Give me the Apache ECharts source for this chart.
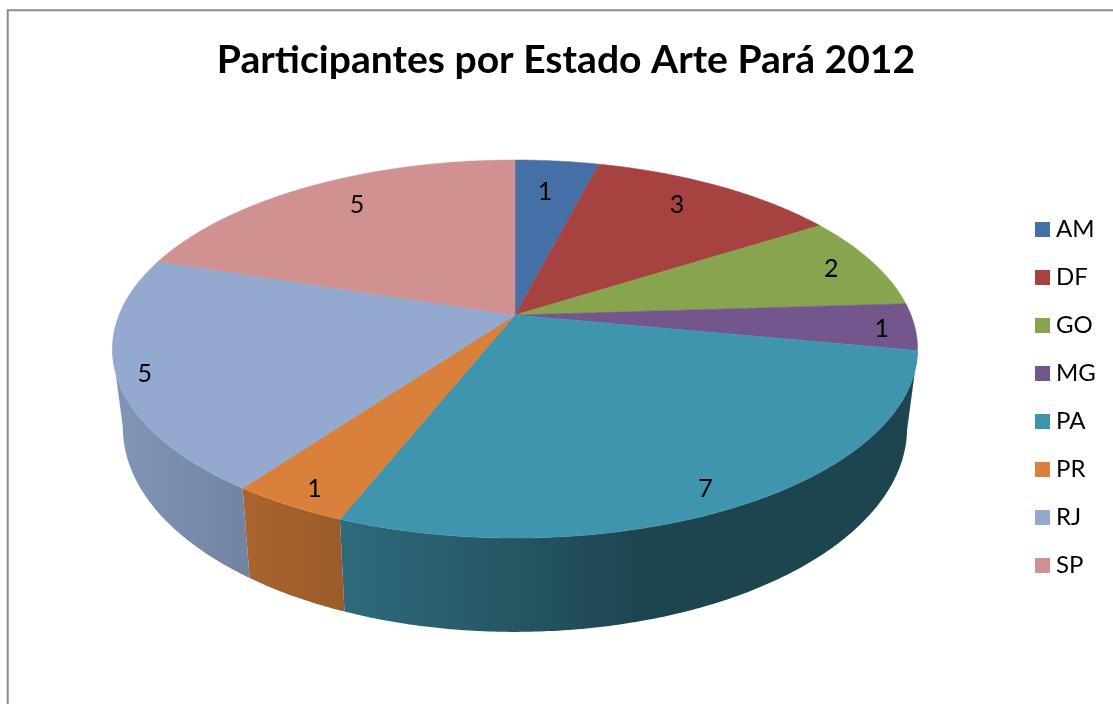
<!DOCTYPE html>
<html>
<head>
<meta charset="utf-8">
<style>html,body{margin:0;padding:0;background:#fff;overflow:hidden}#c{width:1113px;height:704px}</style>
<script src="https://cdn.jsdelivr.net/npm/echarts@6/dist/echarts.min.js"></script>
</head>
<body>
<div id="c"></div>
<script>
var chartTitle = 'Participantes por Estado Arte Pará 2012';
var categories = ['AM','DF','GO','MG','PA','PR','RJ','SP'];
var values = [1,3,2,1,7,1,5,5];
var colors = ['#4470a7','#a64340','#89a44e','#73568c','#3f95ad','#d9803b','#93a9cf','#d09190'];

// Perspective disc: maps pie angle to the page
var cx = 515, cy = 315, A = 182.9, B = 396, K = 0.18;
function top3d(t){
  var d = 1 + K*Math.cos(t);
  return [cx + B*Math.sin(t)/d, cy - A*Math.cos(t)/d];
}
function bottom3d(t){
  var p = top3d(t);
  return [cx + (p[0]-cx)*0.974, cy + (p[1]-cy)*1.08 + 76];
}
var total = values.reduce(function(a,b){return a+b;},0);
function angleAt(i){
  var s = 0; for (var j=0;j<i;j++) s += values[j];
  return s/total*Math.PI*2;
}
function arc(fn,t0,t1){
  var n = Math.max(2,Math.ceil((t1-t0)/0.01)), pts=[];
  for (var i=0;i<=n;i++) pts.push(fn(t0+(t1-t0)*i/n));
  return pts;
}
// the wall is only visible between the two silhouette angles of the disc
var visFrom = Math.PI - Math.acos(K), visTo = Math.PI + Math.acos(K);
// shading of the side wall across the page width
var shadeX = [112,245,344,515,640,918], shadeF = [0.89,0.78,0.71,0.58,0.46,0.46];
// fine placement of the value labels relative to the slice's rim
var labelInsetX = 38, labelInsetY = 30;
var labelNudgeX = [-2,-9,-3,5,-7,-3,-9,13], labelNudgeY = [2,3,3,3,3,3,4,3];
function shaded(hex,f){
  var n = parseInt(hex.slice(1),16);
  return 'rgb('+Math.round((n>>16&255)*f)+','+Math.round((n>>8&255)*f)+','+Math.round((n&255)*f)+')';
}
function wallFill(hex){
  var x0=shadeX[0], x1=shadeX[shadeX.length-1];
  return new echarts.graphic.LinearGradient(x0,0,x1,0,shadeX.map(function(x,i){
    return {offset:(x-x0)/(x1-x0),color:shaded(hex,shadeF[i])};
  }),true);
}
function renderWall(params,api){
  var i = api.value(0), t0 = Math.max(angleAt(i),visFrom), t1 = Math.min(angleAt(i+1),visTo);
  if (t1 <= t0) return {type:'group',children:[]};
  var pts = arc(top3d,t0,t1).concat(arc(bottom3d,t0,t1).reverse());
  return {type:'polygon',shape:{points:pts},style:{fill:wallFill(colors[i]),lineWidth:0},silent:true};
}
function renderTop(i){
  return function(params,api){
    var t0 = angleAt(i), t1 = angleAt(i+1), mid=(t0+t1)/2;
    var pts = [[cx,cy]].concat(arc(top3d,t0,t1));
    var e = top3d(mid), dx=e[0]-cx, dy=e[1]-cy, l=Math.sqrt(dx*dx+dy*dy);
    return {type:'group',children:[
      {type:'polygon',shape:{points:pts},style:{fill:colors[i],stroke:colors[i],lineWidth:0.5}},
      {type:'text',z2:10,style:{
        x:e[0]-labelInsetX*dx/l+labelNudgeX[i],
        y:e[1]-labelInsetY*dy/l+labelNudgeY[i],
        text:String(api.value(0)),
        font:'25px Lato',fill:'#000',align:'center',verticalAlign:'middle'}}
    ]};
  };
}
var series = [{
  type:'custom',coordinateSystem:'none',silent:true,name:'wall',
  data:categories.map(function(c,i){return [i];}),renderItem:renderWall
}];
categories.forEach(function(c,i){
  series.push({type:'custom',coordinateSystem:'none',silent:true,name:c,
    itemStyle:{color:colors[i]},data:[[values[i]]],renderItem:renderTop(i)});
});
var chart = echarts.init(document.getElementById('c'),null,{renderer:'canvas'});
chart.setOption({
  animation:false,
  backgroundColor:'#fff',
  title:{text:chartTitle,left:561,top:36,textAlign:'center',
    textStyle:{fontFamily:'Lato',fontWeight:'bold',fontSize:39.1,color:'#000'}},
  legend:{orient:'vertical',left:1035,top:217.5,padding:0,itemWidth:15,itemHeight:15,itemGap:24,
    selectedMode:false,icon:'rect',data:categories,
    textStyle:{fontFamily:'Lato',fontSize:24,color:'#000',padding:[0,0,0,1]}},
  graphic:[{type:'rect',silent:true,z:-1,shape:{x:7.7,y:10.3,width:1300,height:900},
    style:{fill:'none',stroke:'#8c8c8c',lineWidth:2}}],
  series:series
});
</script>
</body>
</html>
